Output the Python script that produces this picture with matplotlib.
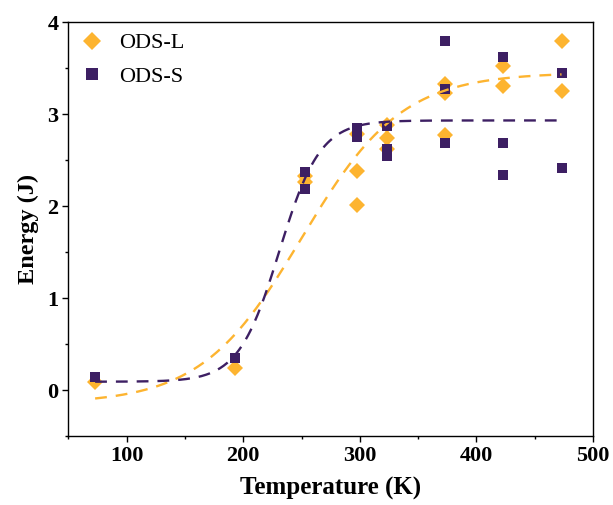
import numpy as np
import matplotlib
matplotlib.use("Agg")
import matplotlib.pyplot as plt

plt.rcParams['font.family'] = ['Liberation Serif', 'DejaVu Serif']

# ODS-L data (diamonds)
temp_L = [73, 193, 253, 253, 298, 298, 298, 323, 323, 323, 373, 373, 373, 423, 423, 473, 473]
energy_L = [0.09, 0.24, 2.33, 2.26, 2.78, 2.38, 2.01, 2.88, 2.74, 2.62, 3.33, 3.23, 2.77, 3.52, 3.30, 3.79, 3.25]

# ODS-S data (squares)
temp_S = [73, 193, 253, 253, 298, 298, 323, 323, 323, 373, 373, 373, 423, 423, 423, 473, 473]
energy_S = [0.14, 0.35, 2.37, 2.19, 2.85, 2.75, 2.87, 2.62, 2.54, 3.79, 3.27, 2.69, 3.62, 2.69, 2.34, 3.45, 2.41]

# tanh fit parameters (lower shelf, upper shelf, transition T, width)
fit_L = dict(lower=-0.15, upper=3.45, t0=250.0, c=86.0)
fit_S = dict(lower=0.09, upper=2.93, t0=231.0, c=35.0)
fit_range = (73, 473)

x_ticks = [100, 200, 300, 400, 500]
y_ticks = [0, 1, 2, 3, 4]

col_L = '#FDB430'
col_S = '#3D1F63'


def tanh_curve(t, p):
    mid = (p['upper'] + p['lower']) / 2
    half = (p['upper'] - p['lower']) / 2
    return mid + half * np.tanh((t - p['t0']) / p['c'])


fig = plt.figure(figsize=(6.13, 5.05), dpi=100)
ax = fig.add_axes([68.3 / 613, 1 - 436 / 505, (593 - 68.3) / 613, (436 - 22) / 505])

ax.plot(temp_L, energy_L, linestyle='none', marker='D', ms=7.8, mew=0,
        color=col_L, label='ODS-L', zorder=3)
ax.plot(temp_S, energy_S, linestyle='none', marker='s', ms=7.0, mew=0,
        color=col_S, label='ODS-S', zorder=4)

tt = np.linspace(fit_range[0], fit_range[1], 400)
ax.plot(tt, tanh_curve(tt, fit_L), color=col_L, lw=1.7, dashes=(5, 3.8), zorder=5)
ax.plot(tt, tanh_curve(tt, fit_S), color=col_S, lw=1.7, dashes=(5, 3.8), zorder=5)

ax.set_xlim(50, 500)
ax.set_ylim(-0.5, 4)
ax.set_xticks(x_ticks)
ax.set_yticks(y_ticks)
ax.set_xticks(np.arange(50, 501, 50), minor=True)
ax.set_yticks(np.arange(-0.5, 4.01, 0.5), minor=True)
ax.tick_params(which='major', direction='out', length=4, width=1.0,
               labelsize=16, pad=3)
ax.tick_params(which='minor', direction='out', length=2.5, width=1.0)
for lab in ax.get_xticklabels() + ax.get_yticklabels():
    lab.set_fontweight('bold')
for s in ax.spines.values():
    s.set_linewidth(1.0)

ax.set_xlabel('Temperature (K)', fontsize=18, fontweight='bold', labelpad=8)
ax.set_ylabel('Energy (J)', fontsize=17.5, fontweight='bold', labelpad=6)

ax.legend(loc='upper left', bbox_to_anchor=(0.024, 0.974), frameon=False,
          borderaxespad=0, borderpad=0, fontsize=16, numpoints=1,
          markerscale=1.2, handlelength=1.0, handletextpad=0.7,
          labelspacing=0.6)

fig.savefig('out.png', dpi=100)
